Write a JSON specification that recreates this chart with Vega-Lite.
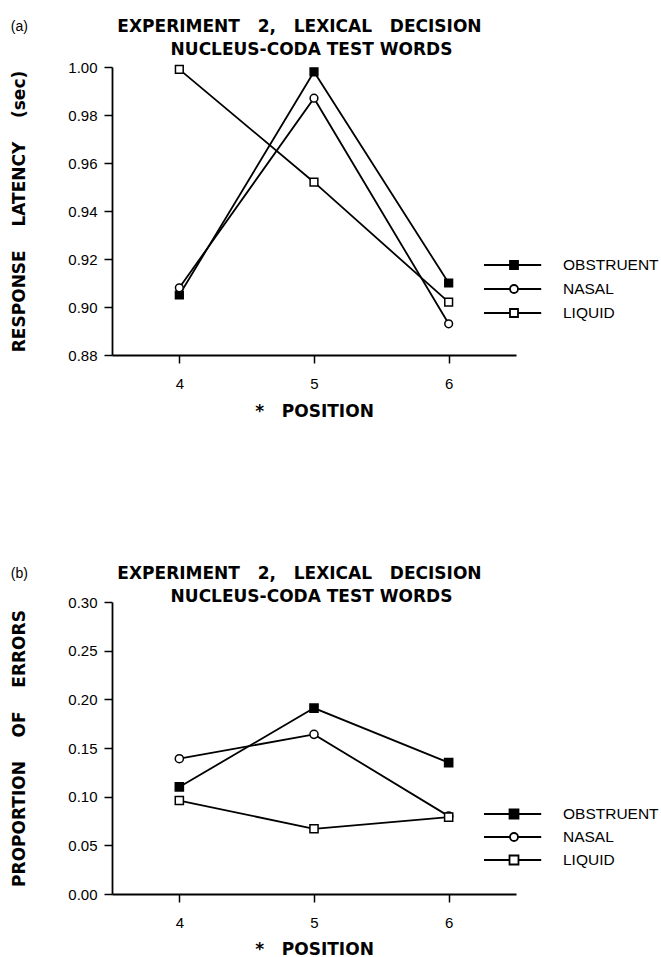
{
  "$schema": "https://vega.github.io/schema/vega-lite/v6.json",
  "background": "white",
  "padding": {"left": 10, "top": 18, "right": 0, "bottom": 0},
  "datasets": {
    "latency": [
      {"series": "OBSTRUENT", "position": 4, "value": 0.905},
      {"series": "OBSTRUENT", "position": 5, "value": 0.998},
      {"series": "OBSTRUENT", "position": 6, "value": 0.910},
      {"series": "NASAL", "position": 4, "value": 0.908},
      {"series": "NASAL", "position": 5, "value": 0.987},
      {"series": "NASAL", "position": 6, "value": 0.893},
      {"series": "LIQUID", "position": 4, "value": 0.999},
      {"series": "LIQUID", "position": 5, "value": 0.952},
      {"series": "LIQUID", "position": 6, "value": 0.902}
    ],
    "errors": [
      {"series": "OBSTRUENT", "position": 4, "value": 0.110},
      {"series": "OBSTRUENT", "position": 5, "value": 0.191},
      {"series": "OBSTRUENT", "position": 6, "value": 0.135},
      {"series": "NASAL", "position": 4, "value": 0.139},
      {"series": "NASAL", "position": 5, "value": 0.164},
      {"series": "NASAL", "position": 6, "value": 0.080},
      {"series": "LIQUID", "position": 4, "value": 0.096},
      {"series": "LIQUID", "position": 5, "value": 0.067},
      {"series": "LIQUID", "position": 6, "value": 0.079}
    ]
  },
  "config": {
    "view": {"stroke": null},
    "axis": {
      "grid": false,
      "domainColor": "black",
      "domainWidth": 1.8,
      "tickColor": "black",
      "tickWidth": 1.5,
      "tickSize": 8,
      "labelColor": "black",
      "labelFont": "Liberation Sans",
      "labelFontSize": 15,
      "titleColor": "black",
      "titleFont": "DejaVu Sans",
      "titleFontSize": 17,
      "titleFontWeight": "bold"
    },
    "axisX": {"labelPadding": 13, "titlePadding": 12},
    "axisY": {"labelPadding": 7, "titlePadding": 39},
    "legend": {
      "orient": "none",
      "padding": 0,
      "labelFont": "Liberation Sans",
      "labelFontSize": 15.5,
      "labelColor": "black",
      "labelOffset": 40,
      "rowPadding": 6,
      "symbolSize": 256,
      "symbolOpacity": 1,
      "symbolStrokeColor": "black",
      "symbolStrokeWidth": 1.8
    },
    "title": {
      "anchor": "start",
      "frame": "bounds",
      "font": "Liberation Sans",
      "fontSize": 14,
      "fontWeight": "normal",
      "color": "black",
      "subtitleFont": "DejaVu Sans",
      "subtitleFontSize": 17,
      "subtitleFontWeight": "bold",
      "subtitleColor": "black",
      "subtitleLineHeight": 23,
      "subtitlePadding": -15
    }
  },
  "spacing": 146,
  "vconcat": [
    {
      "width": 404,
      "height": 288,
      "data": {"name": "latency"},
      "title": {
        "text": "(a)",
        "offset": 0,
        "subtitle": [
          "\u200b\u00a0\u00a0\u00a0\u00a0\u00a0\u00a0\u00a0\u00a0\u00a0\u00a0\u00a0\u00a0\u00a0\u00a0\u00a0\u00a0\u00a0\u00a0EXPERIMENT\u00a0\u00a0\u00a02,\u00a0\u00a0\u00a0LEXICAL\u00a0\u00a0\u00a0DECISION",
          "\u200b\u00a0\u00a0\u00a0\u00a0\u00a0\u00a0\u00a0\u00a0\u00a0\u00a0\u00a0\u00a0\u00a0\u00a0\u00a0\u00a0\u00a0\u00a0\u00a0\u00a0\u00a0\u00a0\u00a0\u00a0\u00a0\u00a0\u00a0NUCLEUS-CODA TEST WORDS"
        ]
      },
      "encoding": {
        "x": {
          "field": "position", "type": "quantitative",
          "scale": {"domain": [3.5, 6.5], "nice": false, "zero": false},
          "axis": {"values": [4, 5, 6], "format": "d", "title": "*\u00a0\u00a0\u00a0POSITION"}
        },
        "y": {
          "field": "value", "type": "quantitative",
          "scale": {"domain": [0.88, 1.0], "nice": false, "zero": false},
          "axis": {"values": [0.88, 0.90, 0.92, 0.94, 0.96, 0.98, 1.0], "format": ".2f", "title": "RESPONSE\u00a0\u00a0\u00a0\u00a0LATENCY\u00a0\u00a0\u00a0\u00a0(sec)"}
        }
      },
      "resolve": {"scale": {"shape": "independent"}},
      "layer": [
        {"mark": {"type": "line", "color": "black", "strokeWidth": 1.8}, "encoding": {"detail": {"field": "series"}}},
        {
          "mark": {"type": "point", "filled": true, "stroke": "black", "strokeWidth": 1.5, "opacity": 1, "size": 60},
          "encoding": {
            "shape": {
              "field": "series", "type": "nominal",
              "scale": {"domain": ["OBSTRUENT", "NASAL", "LIQUID"], "range": ["square", "circle", "square"]},
              "legend": null
            },
            "fill": {
              "field": "series", "type": "nominal",
              "scale": {"domain": ["OBSTRUENT", "NASAL", "LIQUID"], "range": ["black", "white", "white"]},
              "legend": null
            }
          }
        },
        {
          "mark": {"type": "point", "color": "black", "strokeWidth": 1.8, "opacity": 0, "size": 10},
          "encoding": {
            "shape": {
              "field": "series", "type": "nominal",
              "scale": {"domain": ["OBSTRUENT", "NASAL", "LIQUID"], "range": [
                "M-3.75,0H3.4M-0.5,-0.5H0.5V0.5H-0.5ZM-0.5,-0.3H0.5M-0.5,-0.15H0.5M-0.5,0.15H0.5M-0.5,0.3H0.5",
                "M-3.75,0H-0.5M0.5,0H3.4M0.5,0A0.5,0.5,0,1,1,-0.5,0A0.5,0.5,0,1,1,0.5,0Z",
                "M-3.75,0H-0.5M0.5,0H3.4M-0.5,-0.5H0.5V0.5H-0.5Z"
              ]},
              "legend": {"title": null, "legendX": 393, "legendY": 189}
            }
          }
        }
      ]
    },
    {
      "width": 404,
      "height": 292,
      "data": {"name": "errors"},
      "title": {
        "text": "(b)",
        "offset": -12,
        "subtitle": [
          "\u200b\u00a0\u00a0\u00a0\u00a0\u00a0\u00a0\u00a0\u00a0\u00a0\u00a0\u00a0\u00a0\u00a0\u00a0\u00a0\u00a0\u00a0\u00a0EXPERIMENT\u00a0\u00a0\u00a02,\u00a0\u00a0\u00a0LEXICAL\u00a0\u00a0\u00a0DECISION",
          "\u200b\u00a0\u00a0\u00a0\u00a0\u00a0\u00a0\u00a0\u00a0\u00a0\u00a0\u00a0\u00a0\u00a0\u00a0\u00a0\u00a0\u00a0\u00a0\u00a0\u00a0\u00a0\u00a0\u00a0\u00a0\u00a0\u00a0\u00a0NUCLEUS-CODA TEST WORDS"
        ]
      },
      "encoding": {
        "x": {
          "field": "position", "type": "quantitative",
          "scale": {"domain": [3.5, 6.5], "nice": false, "zero": false},
          "axis": {"values": [4, 5, 6], "format": "d", "title": "*\u00a0\u00a0\u00a0POSITION", "titlePadding": 11}
        },
        "y": {
          "field": "value", "type": "quantitative",
          "scale": {"domain": [0, 0.3], "nice": false, "zero": false},
          "axis": {"values": [0, 0.05, 0.1, 0.15, 0.2, 0.25, 0.3], "format": ".2f", "title": "PROPORTION\u00a0\u00a0\u00a0\u00a0OF\u00a0\u00a0\u00a0\u00a0ERRORS"}
        }
      },
      "resolve": {"scale": {"shape": "independent"}},
      "layer": [
        {"mark": {"type": "line", "color": "black", "strokeWidth": 1.8}, "encoding": {"detail": {"field": "series"}}},
        {
          "mark": {"type": "point", "filled": true, "stroke": "black", "strokeWidth": 1.5, "opacity": 1, "size": 66},
          "encoding": {
            "shape": {
              "field": "series", "type": "nominal",
              "scale": {"domain": ["OBSTRUENT", "NASAL", "LIQUID"], "range": ["square", "circle", "square"]},
              "legend": null
            },
            "fill": {
              "field": "series", "type": "nominal",
              "scale": {"domain": ["OBSTRUENT", "NASAL", "LIQUID"], "range": ["black", "white", "white"]},
              "legend": null
            }
          }
        },
        {
          "mark": {"type": "point", "color": "black", "strokeWidth": 1.8, "opacity": 0, "size": 10},
          "encoding": {
            "shape": {
              "field": "series", "type": "nominal",
              "scale": {"domain": ["OBSTRUENT", "NASAL", "LIQUID"], "range": [
                "M-3.75,0H3.4M-0.56,-0.56H0.56V0.56H-0.56ZM-0.56,-0.37H0.56M-0.56,-0.19H0.56M-0.56,0.19H0.56M-0.56,0.37H0.56",
                "M-3.75,0H-0.5M0.5,0H3.4M0.5,0A0.5,0.5,0,1,1,-0.5,0A0.5,0.5,0,1,1,0.5,0Z",
                "M-3.75,0H-0.56M0.56,0H3.4M-0.56,-0.56H0.56V0.56H-0.56Z"
              ]},
              "legend": {"title": null, "legendX": 393, "legendY": 203, "rowPadding": 5}
            }
          }
        }
      ]
    }
  ]
}
